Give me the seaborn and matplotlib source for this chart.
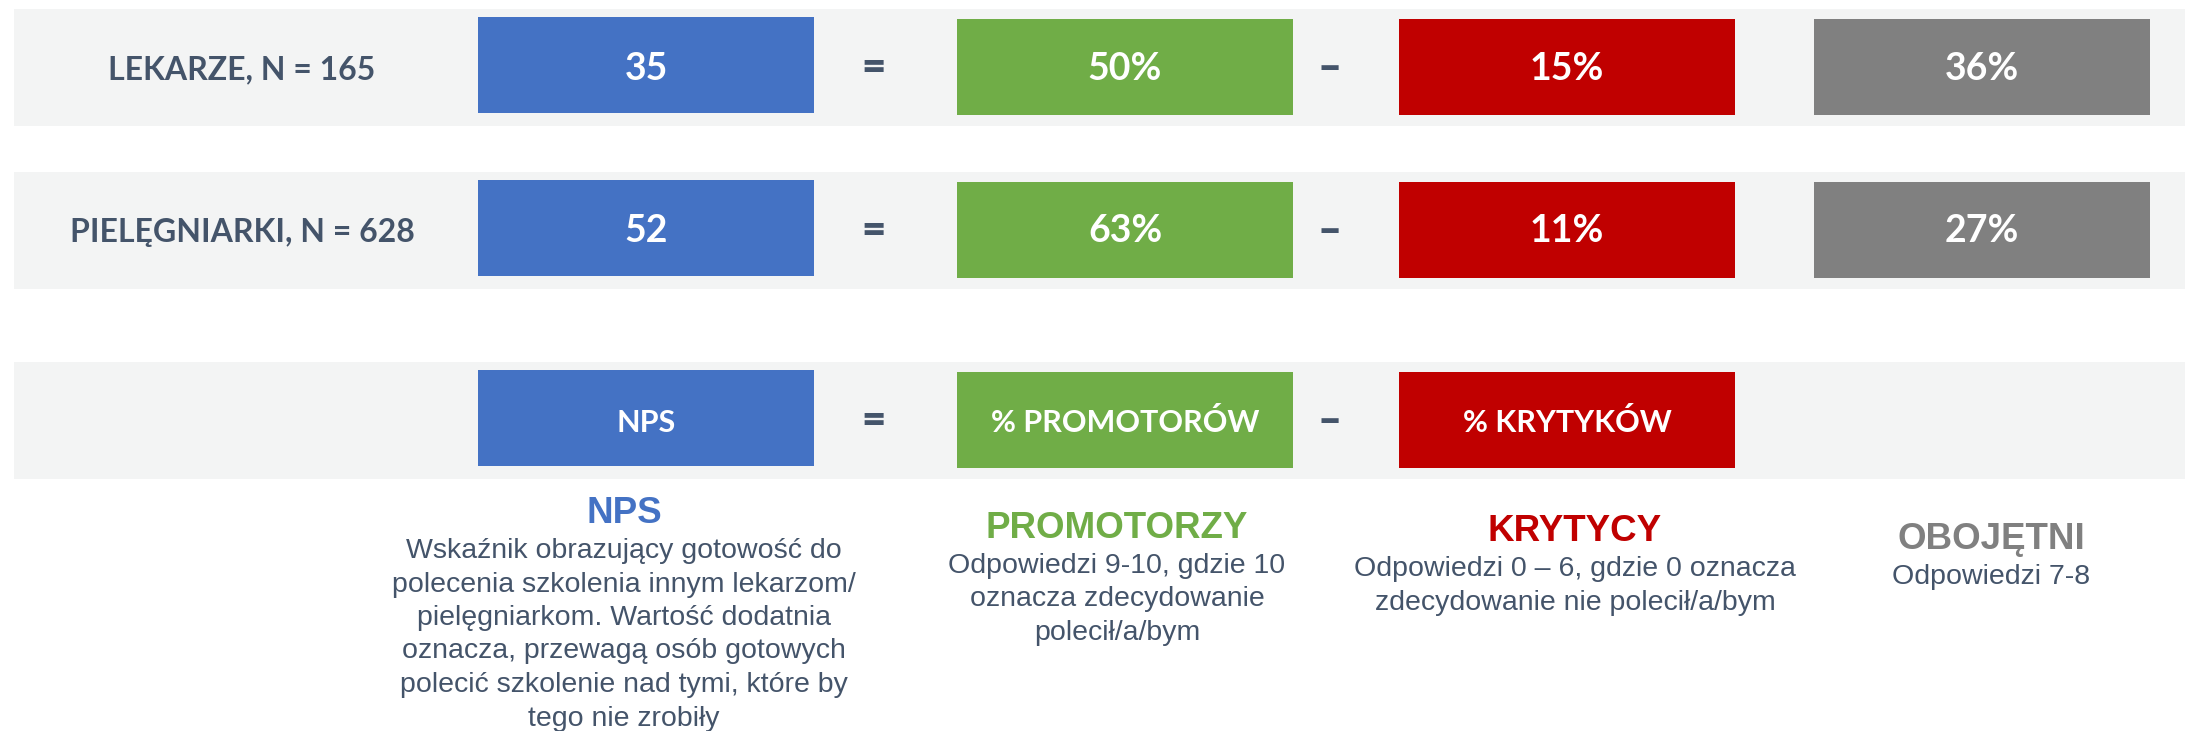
import matplotlib.pyplot as plt
import seaborn as sns
from matplotlib.patches import Rectangle

# --- data -------------------------------------------------------------
groups = ["LEKARZE, N = 165", "PIELĘGNIARKI, N = 628"]
nps = [35, 52]
promotors = [50, 63]
critics = [15, 11]
passives = [36, 27]

legend_boxes = ["NPS", "% PROMOTORÓW", "% KRYTYKÓW"]

titles = ["NPS", "PROMOTORZY", "KRYTYCY", "OBOJĘTNI"]
descriptions = [
    ["Wskaźnik obrazujący gotowość do",
     "polecenia szkolenia innym lekarzom/",
     "pielęgniarkom. Wartość dodatnia",
     "oznacza, przewagą osób gotowych",
     "polecić szkolenie nad tymi, które by",
     "tego nie zrobiły"],
    ["Odpowiedzi 9-10, gdzie 10",
     "oznacza zdecydowanie",
     "polecił/a/bym"],
    ["Odpowiedzi 0 – 6, gdzie 0 oznacza",
     "zdecydowanie nie polecił/a/bym"],
    ["Odpowiedzi 7-8"],
]

# --- style / layout (pixels) -----------------------------------------
sns.set_theme(style="white")
colors = ["#4472C4", "#70AD47", "#C00000", "#808080"]
slate = "#44546A"
band_col = "#F3F4F4"
box_font = ["Lato", "DejaVu Sans"]
txt_font = ["Liberation Sans", "DejaVu Sans"]

W, H = 2185, 731
col_x = [646, 1125, 1567, 1982]      # box centres
box_w, box_h = 336, 96
sym_x = [873, 1330]
label_x = 242
row_y = [67, 230, 420]               # band centres
band_h = 117
title_base = [523, 538, 541, 549]
desc_cx = [624, 1117, 1575, 1991]
line_gap = 33.5

fig = plt.figure(figsize=(W / 100, H / 100), dpi=100)
ax = fig.add_axes([0, 0, 1, 1])
ax.set_xlim(0, W)
ax.set_ylim(H, 0)
ax.axis("off")


def box(ci, yc, text, fs):
    dy = -2 if ci == 0 else 0
    ax.add_patch(Rectangle((col_x[ci] - box_w / 2, yc + dy - box_h / 2),
                           box_w, box_h, color=colors[ci], lw=0))
    ax.text(col_x[ci], yc + 12.5, text, color="white", fontsize=fs,
            fontweight="bold", family=box_font, ha="center", va="baseline")


def symbols(yc):
    for sx, s in zip(sym_x, ["=", "–"]):
        ax.text(sx, yc + 13, s, color=slate, fontsize=30, fontweight="heavy",
                family=box_font, ha="center", va="baseline")


for yc in row_y:
    ax.add_patch(Rectangle((14, yc - band_h / 2), W - 14, band_h,
                           color=band_col, lw=0))

for r, g in enumerate(groups):
    yc = row_y[r]
    ax.text(label_x, yc + 12, g, color=slate, fontsize=23, fontweight="bold",
            family=box_font, ha="center", va="baseline")
    vals = [str(nps[r]), f"{promotors[r]}%", f"{critics[r]}%", f"{passives[r]}%"]
    for ci, v in enumerate(vals):
        box(ci, yc, v, 27)
    symbols(yc)

for ci, t in enumerate(legend_boxes):
    box(ci, row_y[2], t, 22)
symbols(row_y[2])

for ci, (t, lines) in enumerate(zip(titles, descriptions)):
    ax.text(desc_cx[ci], title_base[ci], t, color=colors[ci], fontsize=26.5,
            fontweight="bold", family=txt_font, ha="center", va="baseline")
    for k, ln in enumerate(lines):
        ax.text(desc_cx[ci], title_base[ci] + 35 + k * line_gap, ln,
                color=slate, fontsize=20.5, family=txt_font,
                ha="center", va="baseline")

fig.savefig("out.png", dpi=100, facecolor="white")
